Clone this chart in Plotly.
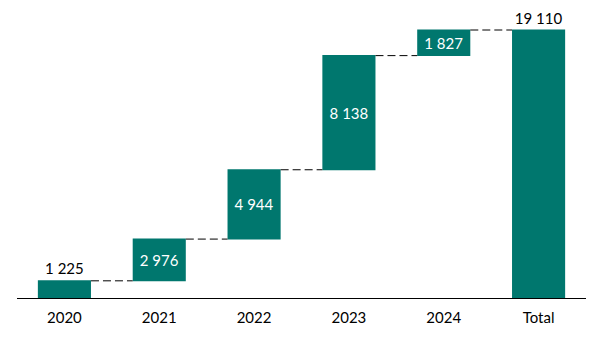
import plotly.graph_objects as go

categories = ["2020", "2021", "2022", "2023", "2024", "Total"]
values = [1225, 2976, 4944, 8138, 1827, 19110]
measures = ["relative", "relative", "relative", "relative", "relative", "total"]
text_positions = ["outside", "inside", "inside", "inside", "inside", "outside"]

labels = [f"{v:,}".replace(",", " ") for v in values]
color = "#00776E"
fnt = "Lato"

fig = go.Figure(go.Waterfall(
    x=categories,
    y=[v if m == "relative" else 0 for v, m in zip(values, measures)],
    measure=measures,
    text=labels,
    textposition=text_positions,
    insidetextanchor="middle",
    textangle=0,
    insidetextfont=dict(color="white", size=15, family=fnt),
    outsidetextfont=dict(color="black", size=15, family=fnt),
    increasing=dict(marker=dict(color=color)),
    decreasing=dict(marker=dict(color=color)),
    totals=dict(marker=dict(color=color)),
    connector=dict(line=dict(color="black", width=1, dash="8px,4px"), mode="between"),
    cliponaxis=False,
))

fig.update_layout(
    width=616, height=340,
    margin=dict(l=17, r=30, t=10, b=42),
    paper_bgcolor="white", plot_bgcolor="white",
    waterfallgap=0.44,
    showlegend=False,
    font=dict(family=fnt, size=15, color="black"),
    xaxis=dict(showline=True, linecolor="black", linewidth=1,
               ticks="outside", ticklen=6, tickcolor="rgba(0,0,0,0)",
               tickfont=dict(size=15, color="black"), showgrid=False),
    yaxis=dict(visible=False, range=[0, 19110 * 288 / 268], showgrid=False, zeroline=False),
)

fig.write_html("out.html")
